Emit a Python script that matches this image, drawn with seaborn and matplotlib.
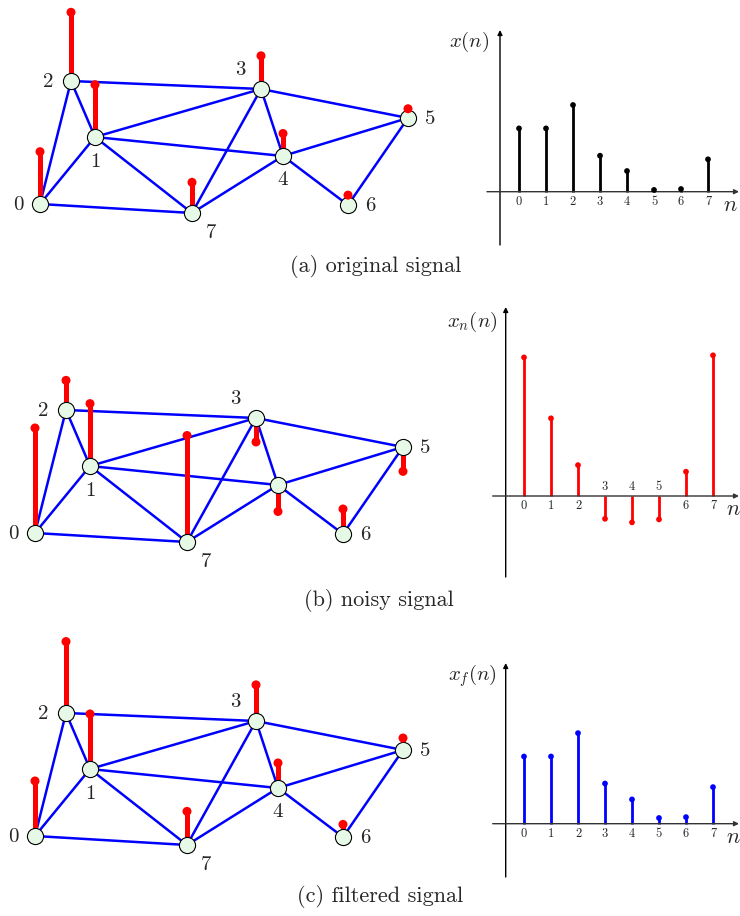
import matplotlib
matplotlib.use("Agg")
import matplotlib.pyplot as plt
import seaborn as sns
import pandas as pd

# ---------------- data ----------------
node_ids = [0, 1, 2, 3, 4, 5, 6, 7]
# graph layout (node 0 at the origin, y up)
node_x = [0, 55, 31, 221, 243, 368, 308, 152]
node_y = [0, 67, 123, 115, 48, 86, -1, -9]
edges = [(0, 1), (0, 2), (0, 7), (1, 2), (1, 3), (1, 4), (1, 7), (2, 3),
         (3, 4), (3, 5), (3, 7), (4, 5), (4, 6), (4, 7), (5, 6)]

x_original = [2.11, 2.11, 2.89, 1.20, 0.69, 0.06, 0.09, 1.08]
x_noisy = [4.62, 2.59, 1.03, -0.76, -0.88, -0.78, 0.81, 4.69]
x_filtered = [2.24, 2.24, 3.02, 1.34, 0.81, 0.19, 0.22, 1.22]

captions = ["(a) original signal", "(b) noisy signal", "(c) filtered signal"]
ylabels = [r"$x(n)$", r"$x_n(n)$", r"$x_f(n)$"]
stem_colors = ["black", "red", "blue"]
# node labels drawn on each graph
shown_labels = [node_ids, [0, 1, 2, 3, 5, 6, 7], node_ids]
label_offsets = {0: (-22, -1), 1: (0, -25), 2: (-23, -1), 3: (-21, 19),
                 4: (0, -24), 5: (22, -1), 6: (22, -1), 7: (19, -20)}

# ---------------- style ----------------
sns.set_style("white")
plt.rcParams["font.family"] = ["cmr10", "DejaVu Serif"]
plt.rcParams["mathtext.fontset"] = "cm"
plt.rcParams["axes.unicode_minus"] = False

W, H = 740, 916
fig = plt.figure(figsize=(W / 100, H / 100), dpi=100)


def px_axes(left, top, w, h):
    ax = fig.add_axes([left / W, 1 - (top + h) / H, w / W, h / H])
    ax.axis("off")
    return ax


NODE_R = 8          # node radius (px)
GRAPH_SCALE = 21    # px per signal unit on the graph
N_STEP = 27         # px per sample index in the stem plot
V_STEP = 30         # px per signal unit in the stem plot

nodes = pd.DataFrame({"node": node_ids, "x": node_x, "y": node_y})


def draw_graph(box, origin, values, labels):
    left, top, w, h = box
    gx, gy = origin
    ax = px_axes(left, top, w, h)
    for a, b in edges:
        ax.plot([node_x[a], node_x[b]], [node_y[a], node_y[b]],
                color="#0000ff", lw=1.8, zorder=1, solid_capstyle="round")
    df = nodes.copy()
    df["v"] = values
    sign = df["v"].apply(lambda v: 1 if v >= 0 else -1)
    df["base"] = df["y"] + sign * NODE_R
    df["tip"] = df["base"] + df["v"] * GRAPH_SCALE
    ax.vlines(df["x"], df["base"], df["tip"], color="red", lw=3.6, zorder=2)
    sns.scatterplot(data=df, x="x", y="y", s=135, color="#e6f8e6",
                    edgecolor="black", linewidth=0.8, zorder=3, ax=ax,
                    legend=False)
    sns.scatterplot(data=df, x="x", y="tip", s=42, color="red",
                    edgecolor="none", zorder=4, ax=ax, legend=False)
    ax.set_xlabel("")
    ax.set_ylabel("")
    for i in labels:
        dx, dy = label_offsets[i]
        ax.text(node_x[i] + dx, node_y[i] + dy, str(i), fontsize=15,
                ha="center", va="center")
    ax.set_xlim(left - gx, left + w - gx)
    ax.set_ylim(gy - (top + h), gy - top)


def draw_stem(box, n0_px, base_px, yaxis_px, yspan_px, xstart_px,
              values, color, ylabel, ylabel_px, nlabel_px):
    left, top, w, h = box
    ax = px_axes(left, top, w, h)

    def to_n(px):
        return (px - n0_px) / N_STEP

    def to_v(py):
        return (base_px - py) / V_STEP

    arrow = dict(arrowstyle="-|>", lw=1.0, color="black", mutation_scale=7,
                 shrinkA=0, shrinkB=0)
    ax.annotate("", xy=(to_n(yaxis_px), to_v(yspan_px[1])),
                xytext=(to_n(yaxis_px), to_v(yspan_px[0])), arrowprops=arrow)
    ax.annotate("", xy=(to_n(W - 1), 0), xytext=(to_n(xstart_px), 0),
                arrowprops=dict(arrow, color="#333333"))
    df = pd.DataFrame({"n": node_ids, "v": values})
    ax.vlines(df["n"], 0, df["v"], color=color, lw=2.0, zorder=2)
    sns.scatterplot(data=df, x="n", y="v", s=17, color=color,
                    edgecolor="none", zorder=3, ax=ax, legend=False)
    ax.set_xlabel("")
    ax.set_ylabel("")
    for n, v in zip(node_ids, values):
        off = -10 / V_STEP if v >= 0 else 9 / V_STEP
        ax.text(n, off, str(n), fontsize=9, ha="center", va="center")
    ax.text(to_n(nlabel_px[0]), to_v(nlabel_px[1]), r"$n$", fontsize=16,
            ha="center", va="center")
    ax.text(to_n(ylabel_px[0]), to_v(ylabel_px[1]), ylabel, fontsize=15,
            ha="center", va="center")
    ax.set_xlim(to_n(left), to_n(left + w))
    ax.set_ylim(to_v(top + h), to_v(top))


signals = [x_original, x_noisy, x_filtered]
graph_boxes = [(0, 0, 440, 252), (0, 370, 440, 220), (0, 630, 440, 250)]
graph_origins = [(40, 204), (35, 533), (35, 836)]

stem_boxes = [(440, 20, 300, 240), (470, 300, 270, 290), (470, 655, 270, 225)]
stem_n0 = [519, 524, 524]
stem_base = [191.7, 496, 823.7]
stem_yaxis = [500, 505.7, 505.7]
stem_yspan = [(245, 30), (577, 307), (877, 663)]
stem_xstart = [487, 492.7, 492.7]
ylabel_pos = [(469, 42), (472, 322), (472, 676)]
nlabel_pos = [(730, 205), (733, 509), (733, 837)]
caption_pos = [(376, 267), (379, 600), (380, 897)]

for k in range(3):
    draw_graph(graph_boxes[k], graph_origins[k], signals[k], shown_labels[k])
    draw_stem(stem_boxes[k], stem_n0[k], stem_base[k], stem_yaxis[k],
              stem_yspan[k], stem_xstart[k], signals[k], stem_colors[k],
              ylabels[k], ylabel_pos[k], nlabel_pos[k])
    cx, cy = caption_pos[k]
    fig.text(cx / W, 1 - cy / H, captions[k], fontsize=16,
             ha="center", va="center")

fig.savefig("out.png", dpi=100, facecolor="white")
